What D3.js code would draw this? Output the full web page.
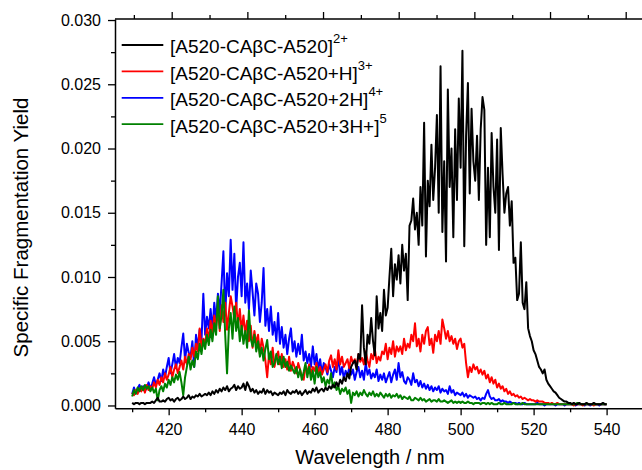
<!DOCTYPE html>
<html>
<head>
<meta charset="utf-8">
<script src="https://cdn.jsdelivr.net/npm/d3@7"></script>
<style>
  body { margin: 0; background: #fff; }
  svg text { font-family: Arial, "Liberation Sans", sans-serif; fill: #000; }
</style>
</head>
<body>
<div id="chart"></div>
<script>
// sampling grid of the spectra (nm)
const wavelengths = d3.range(410, 540.25, 0.5);

const black = [
  0.0002,0.0001,0.0002,0.0002,0.0001,0.0002,0.0002,0.0001,0.0002,0.0002,0.0002,0.0003,0.0002,0.0004,0.0006,0.0003,0.0003,0.0004,0.0003,0.0005,
  0.0006,0.0004,0.0005,0.0003,0.0005,0.0006,0.0004,0.0005,0.0007,0.0005,0.0006,0.0008,0.0005,0.0007,0.0006,0.0008,0.0007,0.0009,0.0007,0.0008,
  0.0009,0.0008,0.0010,0.0008,0.0011,0.0009,0.0012,0.0010,0.0013,0.0011,0.0014,0.0012,0.0015,0.0011,0.0013,0.0014,0.0016,0.0012,0.0015,0.0013,
  0.0014,0.0017,0.0012,0.0018,0.0015,0.0011,0.0013,0.0010,0.0012,0.0009,0.0011,0.0010,0.0013,0.0009,0.0012,0.0010,0.0011,0.0008,0.0010,0.0009,
  0.0008,0.0010,0.0009,0.0011,0.0008,0.0012,0.0010,0.0009,0.0011,0.0010,0.0012,0.0009,0.0011,0.0008,0.0010,0.0012,0.0009,0.0011,0.0010,0.0013,
  0.0011,0.0014,0.0010,0.0012,0.0013,0.0011,0.0014,0.0012,0.0015,0.0013,0.0016,0.0014,0.0018,0.0015,0.0020,0.0017,0.0022,0.0019,0.0025,0.0021,
  0.0030,0.0033,0.0035,0.0028,0.0040,0.0036,0.0078,0.0045,0.0032,0.0055,0.0048,0.0068,0.0050,0.0039,0.0085,0.0060,0.0072,0.0058,0.0090,0.0070,
  0.0076,0.0100,0.0122,0.0085,0.0110,0.0098,0.0117,0.0095,0.0125,0.0105,0.0118,0.0082,0.0140,0.0144,0.0161,0.0137,0.0150,0.0125,0.0170,0.0140,
  0.0220,0.0116,0.0175,0.0155,0.0203,0.0160,0.0185,0.0226,0.0150,0.0264,0.0135,0.0190,0.0112,0.0246,0.0170,0.0200,0.0131,0.0215,0.0160,0.0239,
  0.0185,0.0276,0.0124,0.0210,0.0251,0.0165,0.0231,0.0190,0.0175,0.0210,0.0160,0.0215,0.0240,0.0230,0.0125,0.0185,0.0131,0.0212,0.0170,0.0150,
  0.0207,0.0121,0.0216,0.0180,0.0150,0.0165,0.0170,0.0140,0.0159,0.0111,0.0115,0.0082,0.0087,0.0127,0.0080,0.0075,0.0096,0.0060,0.0054,0.0050,
  0.0043,0.0040,0.0035,0.0030,0.0028,0.0025,0.0028,0.0020,0.0017,0.0015,0.0013,0.0011,0.0010,0.0008,0.0006,0.0005,0.0004,0.0003,0.0003,0.0002,
  0.0002,0.0001,0.0002,0.0001,0.0001,0.0002,0.0001,0.0001,0.0001,0.0002,0.0001,0.0001,0.0001,0.0002,0.0001,0.0001,0.0001,0.0001,0.0002,0.0001,
  0.0001
];

const red = [
  0.0010,0.0008,0.0012,0.0009,0.0013,0.0011,0.0014,0.0010,0.0016,0.0012,0.0015,0.0013,0.0018,0.0014,0.0020,0.0016,0.0022,0.0018,0.0025,0.0020,
  0.0024,0.0030,0.0022,0.0028,0.0032,0.0025,0.0030,0.0035,0.0028,0.0038,0.0032,0.0040,0.0036,0.0045,0.0038,0.0048,0.0042,0.0060,0.0045,0.0052,
  0.0048,0.0060,0.0050,0.0066,0.0055,0.0070,0.0062,0.0075,0.0058,0.0078,0.0065,0.0080,0.0059,0.0072,0.0085,0.0077,0.0068,0.0080,0.0062,0.0075,
  0.0058,0.0070,0.0055,0.0066,0.0050,0.0062,0.0045,0.0058,0.0048,0.0055,0.0040,0.0052,0.0045,0.0035,0.0022,0.0040,0.0032,0.0045,0.0030,0.0038,
  0.0042,0.0032,0.0040,0.0030,0.0036,0.0028,0.0038,0.0027,0.0034,0.0030,0.0025,0.0033,0.0028,0.0022,0.0020,0.0030,0.0026,0.0032,0.0025,0.0030,
  0.0027,0.0033,0.0025,0.0030,0.0024,0.0028,0.0032,0.0026,0.0035,0.0039,0.0030,0.0036,0.0028,0.0043,0.0032,0.0038,0.0030,0.0033,0.0036,0.0029,
  0.0038,0.0033,0.0036,0.0030,0.0040,0.0034,0.0037,0.0032,0.0042,0.0035,0.0030,0.0040,0.0036,0.0044,0.0033,0.0038,0.0035,0.0042,0.0040,0.0048,
  0.0036,0.0045,0.0040,0.0050,0.0038,0.0046,0.0042,0.0046,0.0040,0.0052,0.0043,0.0048,0.0045,0.0055,0.0050,0.0064,0.0046,0.0052,0.0042,0.0055,
  0.0048,0.0058,0.0061,0.0047,0.0052,0.0041,0.0055,0.0050,0.0058,0.0048,0.0067,0.0060,0.0052,0.0058,0.0050,0.0054,0.0048,0.0052,0.0044,0.0050,
  0.0052,0.0045,0.0048,0.0033,0.0022,0.0030,0.0026,0.0032,0.0028,0.0030,0.0025,0.0028,0.0024,0.0027,0.0021,0.0024,0.0018,0.0022,0.0017,0.0020,
  0.0014,0.0017,0.0013,0.0015,0.0011,0.0013,0.0009,0.0011,0.0008,0.0009,0.0007,0.0008,0.0006,0.0007,0.0005,0.0006,0.0005,0.0004,0.0005,0.0004,
  0.0004,0.0003,0.0004,0.0003,0.0003,0.0003,0.0002,0.0002,0.0002,0.0001,0.0002,0.0001,0.0001,0.0002,0.0001,0.0001,0.0001,0.0001,0.0001,0.0001,
  0.0001,0.0001,0.0000,0.0001,0.0001,0.0001,0.0001,0.0000,0.0001,0.0001,0.0001,0.0001,0.0001,0.0000,0.0001,0.0001,0.0001,0.0001,0.0001,0.0001,
  0.0001
];

const blue = [
  0.0009,0.0014,0.0010,0.0013,0.0016,0.0012,0.0015,0.0011,0.0014,0.0018,0.0013,0.0017,0.0022,0.0016,0.0020,0.0025,0.0019,0.0028,0.0022,0.0030,
  0.0037,0.0025,0.0032,0.0040,0.0029,0.0037,0.0033,0.0045,0.0056,0.0035,0.0048,0.0041,0.0038,0.0050,0.0030,0.0055,0.0045,0.0059,0.0050,0.0087,
  0.0055,0.0069,0.0060,0.0075,0.0058,0.0080,0.0066,0.0087,0.0072,0.0095,0.0120,0.0070,0.0103,0.0085,0.0129,0.0090,0.0118,0.0075,0.0100,0.0111,
  0.0085,0.0127,0.0080,0.0095,0.0075,0.0105,0.0088,0.0070,0.0095,0.0087,0.0065,0.0080,0.0107,0.0062,0.0075,0.0058,0.0077,0.0055,0.0065,0.0050,
  0.0072,0.0048,0.0061,0.0045,0.0055,0.0040,0.0052,0.0060,0.0042,0.0050,0.0038,0.0048,0.0040,0.0055,0.0035,0.0042,0.0033,0.0040,0.0030,0.0046,
  0.0032,0.0040,0.0028,0.0036,0.0025,0.0033,0.0030,0.0024,0.0032,0.0027,0.0022,0.0030,0.0026,0.0038,0.0024,0.0030,0.0021,0.0027,0.0023,0.0030,
  0.0024,0.0028,0.0020,0.0026,0.0030,0.0022,0.0027,0.0020,0.0033,0.0024,0.0028,0.0021,0.0025,0.0022,0.0028,0.0019,0.0024,0.0020,0.0025,0.0018,
  0.0022,0.0026,0.0018,0.0024,0.0028,0.0020,0.0033,0.0022,0.0026,0.0019,0.0017,0.0022,0.0020,0.0016,0.0025,0.0018,0.0020,0.0015,0.0019,0.0014,
  0.0017,0.0013,0.0016,0.0012,0.0015,0.0011,0.0014,0.0012,0.0015,0.0010,0.0013,0.0011,0.0012,0.0009,0.0015,0.0010,0.0012,0.0008,0.0010,0.0009,
  0.0008,0.0010,0.0007,0.0009,0.0006,0.0008,0.0007,0.0006,0.0007,0.0005,0.0006,0.0004,0.0006,0.0005,0.0009,0.0012,0.0007,0.0005,0.0006,0.0004,
  0.0004,0.0005,0.0003,0.0004,0.0003,0.0003,0.0002,0.0003,0.0002,0.0002,0.0002,0.0001,0.0002,0.0001,0.0001,0.0002,0.0001,0.0001,0.0001,0.0001,
  0.0001,0.0001,0.0002,0.0001,0.0001,0.0001,0.0000,0.0001,0.0001,0.0001,0.0001,0.0001,0.0000,0.0001,0.0001,0.0001,0.0001,0.0000,0.0001,0.0001,
  0.0001,0.0001,0.0001,0.0000,0.0001,0.0001,0.0001,0.0001,0.0000,0.0001,0.0001,0.0000,0.0001,0.0001,0.0001,0.0001,0.0000,0.0001,0.0001,0.0001,
  0.0001
];

const green = [
  0.0007,0.0012,0.0009,0.0014,0.0011,0.0015,0.0012,0.0016,0.0013,0.0015,0.0011,0.0014,0.0010,0.0013,0.0004,0.0012,0.0015,0.0011,0.0017,0.0014,
  0.0020,0.0016,0.0022,0.0018,0.0024,0.0020,0.0026,0.0018,0.0008,0.0022,0.0030,0.0038,0.0028,0.0035,0.0030,0.0042,0.0036,0.0048,0.0040,0.0051,
  0.0044,0.0055,0.0047,0.0059,0.0050,0.0064,0.0055,0.0085,0.0060,0.0070,0.0090,0.0055,0.0025,0.0060,0.0072,0.0052,0.0077,0.0058,0.0068,0.0050,
  0.0062,0.0048,0.0058,0.0045,0.0074,0.0052,0.0046,0.0055,0.0042,0.0050,0.0038,0.0045,0.0035,0.0044,0.0051,0.0036,0.0042,0.0030,0.0033,0.0040,
  0.0032,0.0038,0.0029,0.0038,0.0030,0.0034,0.0027,0.0031,0.0028,0.0025,0.0030,0.0022,0.0028,0.0020,0.0026,0.0033,0.0022,0.0030,0.0020,0.0027,
  0.0017,0.0030,0.0022,0.0026,0.0018,0.0022,0.0015,0.0020,0.0017,0.0025,0.0014,0.0018,0.0012,0.0015,0.0009,0.0013,0.0011,0.0014,0.0009,0.0012,
  0.0002,0.0010,0.0008,0.0011,0.0007,0.0010,0.0008,0.0012,0.0009,0.0007,0.0010,0.0008,0.0011,0.0007,0.0009,0.0007,0.0010,0.0008,0.0006,0.0009,
  0.0007,0.0009,0.0006,0.0008,0.0007,0.0009,0.0006,0.0008,0.0005,0.0007,0.0006,0.0005,0.0007,0.0004,0.0004,0.0006,0.0005,0.0004,0.0006,0.0004,
  0.0005,0.0003,0.0004,0.0005,0.0003,0.0004,0.0004,0.0003,0.0005,0.0003,0.0003,0.0004,0.0003,0.0002,0.0003,0.0004,0.0002,0.0003,0.0002,0.0003,
  0.0002,0.0003,0.0002,0.0002,0.0003,0.0002,0.0002,0.0001,0.0002,0.0002,0.0002,0.0001,0.0002,0.0002,0.0001,0.0002,0.0001,0.0002,0.0001,0.0001,
  0.0001,0.0002,0.0001,0.0001,0.0002,0.0001,0.0001,0.0001,0.0001,0.0002,0.0001,0.0001,0.0001,0.0001,0.0002,0.0001,0.0001,0.0001,0.0001,0.0001,
  0.0001,0.0001,0.0001,0.0001,0.0001,0.0001,0.0001,0.0001,0.0001,0.0001,0.0001,0.0001,0.0001,0.0001,0.0001,0.0001,0.0001,0.0001,0.0001,0.0001,
  0.0001,0.0001,0.0001,0.0001,0.0002,0.0001,0.0001,0.0001,0.0001,0.0001,0.0001,0.0001,0.0001,0.0001,0.0001,0.0001,0.0001,0.0001,0.0001,0.0001,
  0.0001
];

const seriesNames = [
  ["[A520-CAβC-A520]", "2+"],
  ["[A520-CAβC-A520+H]", "3+"],
  ["[A520-CAβC-A520+2H]", "4+"],
  ["[A520-CAβC-A520+3H+]", "5"]
];
const seriesColors = ["#000000", "#ff0000", "#0000ff", "#008000"];

const xMajor = [420, 440, 460, 480, 500, 520, 540];
const xMinor = [410, 430, 450, 470, 490, 510, 530];
const yMajor = [0, 0.005, 0.010, 0.015, 0.020, 0.025, 0.030];
const yMinor = [0.0025, 0.0075, 0.0125, 0.0175, 0.0225, 0.0275];
// top frame ticks (unlabelled)
const topMajor = [0, 1, 2, 3, 4, 5, 6];
const topMinor = [-0.5, 0.5, 1.5, 2.5, 3.5, 4.5, 5.5];

const width = 642, height = 470;

const svg = d3.select("#chart").append("svg")
    .attr("width", width)
    .attr("height", height);

const x = d3.scaleLinear().domain([405.3, 549.7]).range([115, 642]);
const y = d3.scaleLinear().domain([-0.00022, 0.03008]).range([408.3, 19]);
const xTop = d3.scaleLinear().domain([0, 6]).range([171.7, 625.7]);

// spectra
const line = d3.line()
    .x((d, i) => x(wavelengths[i]))
    .y(d => y(d));

const drawOrder = [2, 1, 3, 0];
const allSeries = [black, red, blue, green];
svg.append("g")
    .selectAll("path")
    .data(drawOrder)
    .join("path")
    .attr("d", k => line(allSeries[k]))
    .attr("fill", "none")
    .attr("stroke", k => seriesColors[k])
    .attr("stroke-width", 2)
    .attr("stroke-linejoin", "round");

// axes
function styleAxis(g) {
    g.selectAll(".domain").attr("stroke", "#000").attr("stroke-width", 1.5);
    g.selectAll(".tick line").attr("stroke", "#000").attr("stroke-width", 1.3);
    g.selectAll(".tick text")
        .attr("font-family", "Arial, 'Liberation Sans', sans-serif")
        .attr("font-size", 16)
        .attr("fill", "#000");
}

const xAxisG = svg.append("g")
    .attr("transform", `translate(0,${y(-0.00022)})`);
xAxisG.append("g")
    .call(d3.axisBottom(x).tickValues(xMinor).tickSize(4).tickSizeOuter(0).tickFormat(""))
    .call(g => g.select(".domain").remove())
    .call(styleAxis);
xAxisG.append("g")
    .call(d3.axisBottom(x).tickValues(xMajor).tickSize(7).tickSizeOuter(0).tickPadding(8).tickFormat(d3.format("d")))
    .call(styleAxis);

const topAxisG = svg.append("g")
    .attr("transform", `translate(0,${y(0.03008)})`);
topAxisG.append("line")
    .attr("x1", 115).attr("x2", 642)
    .attr("stroke", "#000").attr("stroke-width", 1.5);
topAxisG.append("g")
    .call(d3.axisTop(xTop).tickValues(topMajor).tickSize(7).tickFormat(""))
    .call(g => g.select(".domain").remove())
    .call(styleAxis);
topAxisG.append("g")
    .call(d3.axisTop(xTop).tickValues(topMinor).tickSize(4).tickFormat(""))
    .call(g => g.select(".domain").remove())
    .call(styleAxis);

const yAxisG = svg.append("g")
    .attr("transform", `translate(${x(405.3)},0)`);
yAxisG.append("g")
    .call(d3.axisLeft(y).tickValues(yMinor).tickSize(4).tickFormat(""))
    .call(g => g.select(".domain").remove())
    .call(styleAxis);
yAxisG.append("g")
    .call(d3.axisLeft(y).tickValues(yMajor).tickSize(7).tickSizeOuter(0).tickPadding(7).tickFormat(d3.format(".3f")))
    .call(styleAxis);

// axis titles
svg.append("text")
    .attr("x", 370)
    .attr("y", 464)
    .attr("text-anchor", "middle")
    .attr("font-size", 20)
    .text("Wavelength / nm");

svg.append("text")
    .attr("transform", "translate(28,227.5) rotate(-90)")
    .attr("text-anchor", "middle")
    .attr("font-size", 20.5)
    .text("Specific Fragmentation Yield");

// legend
const legend = svg.append("g")
    .selectAll("g")
    .data(seriesNames)
    .join("g")
    .attr("transform", (d, i) => `translate(0,${45 + i * 26.4})`);

legend.append("line")
    .attr("x1", 121.7).attr("x2", 163.3)
    .attr("stroke", (d, i) => seriesColors[i])
    .attr("stroke-width", 1.8);

const legendText = legend.append("text")
    .attr("x", 170)
    .attr("y", 8.3)
    .attr("font-size", 19);
legendText.append("tspan").text(d => d[0]);
legendText.append("tspan")
    .attr("dy", -10)
    .attr("font-size", 13)
    .text(d => d[1]);
</script>
</body>
</html>
